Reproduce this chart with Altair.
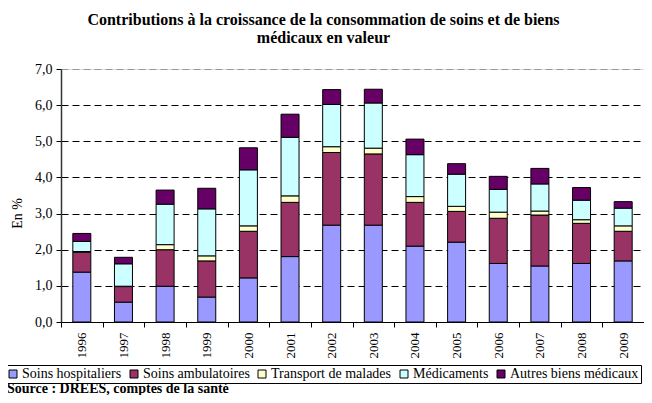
import altair as alt
import pandas as pd

years = ["1996", "1997", "1998", "1999", "2000", "2001", "2002",
         "2003", "2004", "2005", "2006", "2007", "2008", "2009"]
categories = ["Soins hospitaliers", "Soins ambulatoires", "Transport de malades",
              "Médicaments", "Autres biens médicaux"]
colors = ["#9999FF", "#993366", "#FFFFCC", "#CCFFFF", "#660066"]

hospitaliers = [1.38, 0.55, 0.99, 0.69, 1.22, 1.81, 2.68, 2.68, 2.10, 2.21, 1.62, 1.55, 1.62, 1.69]
ambulatoires = [0.55, 0.43, 1.01, 1.00, 1.29, 1.50, 2.01, 1.97, 1.21, 0.85, 1.25, 1.41, 1.11, 0.82]
transport = [0.02, 0.01, 0.14, 0.14, 0.15, 0.18, 0.16, 0.16, 0.16, 0.14, 0.17, 0.11, 0.10, 0.15]
medicaments = [0.28, 0.62, 1.12, 1.30, 1.55, 1.62, 1.17, 1.25, 1.16, 0.89, 0.63, 0.75, 0.54, 0.49]
autres = [0.22, 0.18, 0.39, 0.57, 0.61, 0.64, 0.41, 0.38, 0.43, 0.29, 0.36, 0.43, 0.35, 0.18]

source_text = ["Source : DREES, comptes de la santé"]

series = [hospitaliers, ambulatoires, transport, medicaments, autres]
rows = []
for ci, (cat, vals) in enumerate(zip(categories, series)):
    for y, v in zip(years, vals):
        rows.append({"Année": y, "Poste": cat, "Valeur": v, "ordre": ci})
df = pd.DataFrame(rows)

SERIF = "Liberation Serif"

bars = alt.Chart(df).mark_bar(size=18, stroke="black", strokeWidth=1).encode(
    x=alt.X("Année:N", sort=years,
            scale=alt.Scale(paddingInner=0, paddingOuter=0),
            axis=alt.Axis(title=None, labelAngle=270, labelFont=SERIF, labelFontSize=13,
                          labelColor="black", tickBand="extent", tickSize=5,
                          tickColor="black", domainColor="black", labelPadding=5,
                          grid=False)),
    y=alt.Y("Valeur:Q", stack="zero",
            scale=alt.Scale(domain=[0, 7], nice=False),
            axis=alt.Axis(title="En %", values=[0, 1, 2, 3, 4, 5, 6, 7],
                          labelExpr="replace(format(datum.value, '.1f'), '.', ',')",
                          labelFont=SERIF, labelFontSize=14, labelColor="black",
                          titleFont=SERIF, titleFontSize=14, titleFontWeight="normal",
                          titleColor="black", titleAngle=270, titleX=-44, titleY=144,
                          titleAlign="center", titleBaseline="middle",
                          tickSize=5, tickColor="black", domainColor="#333333",
                          domainWidth=1.5, labelPadding=4,
                          grid=True, gridDash=[7, 4], gridWidth=1,
                          gridColor=alt.condition("datum.value == 7",
                                                  alt.value("#999999"),
                                                  alt.value("black")))),
    color=alt.Color("Poste:N", scale=alt.Scale(domain=categories, range=colors),
                    legend=alt.Legend(title=None, orient="none", direction="horizontal",
                                      legendX=-57, legendY=296,
                                      labelFont=SERIF,
                                      labelFontSize=14,
                                      labelColor="black",
                                      symbolType="square", symbolSize=64,
                                      symbolStrokeColor="black", symbolStrokeWidth=1,
                                      symbolOpacity=1,
                                      strokeColor="black", fillColor="white",
                                      padding=2, columnPadding=5, labelOffset=2,
                                      cornerRadius=0)),
    order=alt.Order("ordre:Q", sort="ascending"),
)

src_df = pd.DataFrame({"texte": source_text})
source = alt.Chart(src_df).mark_text(
    align="left", baseline="alphabetic", font=SERIF, fontSize=14,
    fontWeight="bold", color="black"
).encode(text="texte:N", x=alt.value(-54), y=alt.value(324))

chart = alt.layer(bars, source).properties(
    width=583, height=253,
    autosize=alt.AutoSizeParams(type="none"),
    padding={"left": 53, "top": 61, "right": 0, "bottom": 73},
    title=alt.TitleParams(
        text=["Contributions à la croissance de la consommation de soins et de biens",
              "médicaux en valeur"],
        font=SERIF, fontSize=16, fontWeight="bold", color="black",
        lineHeight=18, anchor="middle", dx=-29, offset=16),
).configure_view(stroke=None).configure(
    background="white",
    style={"guide-label": {"font": SERIF}},
)

chart.save("out.html", embed_options={"renderer": "svg", "actions": False})
